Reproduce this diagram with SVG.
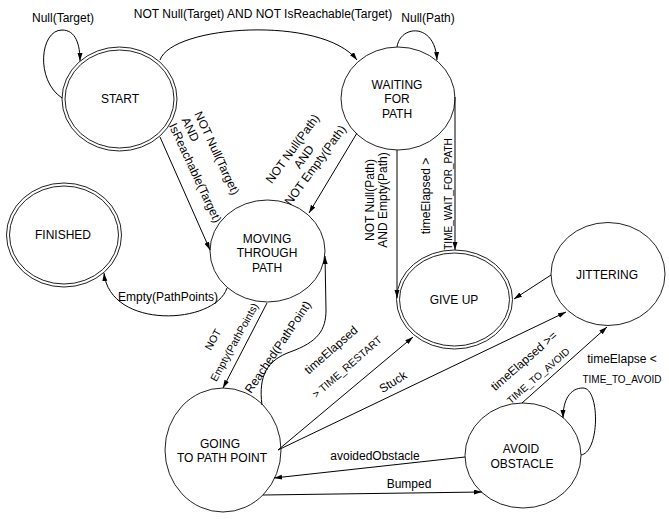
<svg xmlns="http://www.w3.org/2000/svg" width="669" height="519" viewBox="0 0 669 519">
<defs>
<marker id="arr" markerUnits="userSpaceOnUse" markerWidth="9" markerHeight="6" refX="8" refY="2.5" orient="auto">
<path d="M0,0 L8,2.5 L0,5 z" fill="#000"/>
</marker>
</defs>
<style>
text{font-family:"Liberation Sans",Arial,sans-serif;font-size:12px;fill:#000}
.m{text-anchor:middle}
.s{text-anchor:start}
.sm{font-size:10px}
.md{font-size:10.5px}
.n{fill:#fff;stroke:#222;stroke-width:1}
.ni{fill:none;stroke:#222;stroke-width:1}
.c{fill:none;stroke:#000;stroke-width:1;marker-end:url(#arr)}
</style>
<rect width="669" height="519" fill="#fff"/>

<g id="start"><ellipse class="n" cx="119.5" cy="99" rx="57.5" ry="52"/><ellipse class="ni" cx="119.5" cy="99" rx="54.5" ry="49"/><text class="m" x="120" y="103">START</text></g>
<g id="waiting"><ellipse class="n" cx="398" cy="98.5" rx="57" ry="51.5"/><text class="m" x="397" y="89">WAITING</text><text class="m" x="397" y="103">FOR</text><text class="m" x="397" y="118">PATH</text></g>
<g id="moving"><ellipse class="n" cx="267.5" cy="251" rx="57.5" ry="51"/><text class="m" x="267" y="243">MOVING</text><text class="m" x="267" y="257">THROUGH</text><text class="m" x="267" y="272">PATH</text></g>
<g id="finished"><ellipse class="n" cx="64" cy="235" rx="57.5" ry="52"/><ellipse class="ni" cx="64" cy="235" rx="54.5" ry="49"/><text class="m" x="63" y="239">FINISHED</text></g>
<g id="giveup"><ellipse class="n" cx="454.5" cy="299.5" rx="58" ry="49.5"/><ellipse class="ni" cx="454.5" cy="299.5" rx="55" ry="46.5"/><text class="m" x="454" y="304">GIVE UP</text></g>
<g id="jittering"><ellipse class="n" cx="608" cy="274" rx="57" ry="51.5"/><text class="m" x="607" y="279">JITTERING</text></g>
<g id="going"><ellipse class="n" cx="223" cy="450" rx="58" ry="62"/><text class="m" x="220" y="448">GOING</text><text class="m" x="222" y="462">TO PATH POINT</text></g>
<g id="avoid"><ellipse class="n" cx="523" cy="455.5" rx="58" ry="52.5"/><text class="m" x="521" y="453">AVOID</text><text class="m" x="522" y="468">OBSTACLE</text></g>

<g id="connectors">
<g id="e-start-self"><path class="c" d="M62,98 C35,80 40,30 62,30 C76,30 80,45 80,61"/><text class="m" x="63" y="22">Null(Target)</text></g>
<g id="e-start-waiting"><path class="c" d="M160,60 C172,25 322,15 357,60"/><text class="m" x="263" y="18">NOT Null(Target) AND NOT IsReachable(Target)</text></g>
<g id="e-waiting-self"><path class="c" d="M397,47 C400,25 435,22 437,60"/><text class="m" x="428" y="22">Null(Path)</text></g>
<g id="e-start-moving"><path class="c" d="M160,137 L210,250"/>
<g transform="translate(185,118) rotate(65)"><text class="s" x="0" y="-10">NOT Null(Target)</text><text class="s" x="0" y="4">AND</text><text class="s" x="0" y="18">IsReachable(Target)</text></g></g>
<g id="e-waiting-moving"><path class="c" d="M357,133 L309,213"/>
<g transform="translate(304,157) rotate(-54)"><text class="m" x="0" y="-10">NOT Null(Path)</text><text class="m" x="0" y="4">AND</text><text class="m" x="0" y="18">NOT Empty(Path)</text></g></g>
<g id="e-moving-finished"><path class="c" d="M227,288 C215,325 110,330 104,273"/><text class="m" x="168" y="301">Empty(PathPoints)</text></g>
<g id="e-moving-going"><path class="c" d="M267,303 L223,388"/>
<g transform="translate(234,342) rotate(-61)"><text class="m md" x="-8" y="-16">NOT</text><text class="m md" x="0" y="4">Empty(PathPoints)</text></g></g>
<g id="e-going-moving"><path class="c" d="M262,405 C258,375 268,360 290,352 C318,342 326,330 326,310 L325,256"/>
<g transform="translate(278,347) rotate(-56)"><text class="m" x="0" y="4">Reached(PathPoint)</text></g></g>
<g id="e-waiting-giveup-1"><path class="c" d="M397,150 L397,298"/>
<text class="m" transform="translate(374,200) rotate(-90)">NOT Null(Path)</text><text class="m" transform="translate(387,200) rotate(-90)">AND Empty(Path)</text></g>
<g id="e-waiting-giveup-2"><path class="c" d="M455,97 L455,250"/>
<text class="m" transform="translate(430,196) rotate(-90)">timeElapsed &gt;</text><text class="m sm" transform="translate(451.5,194) rotate(-90)">TIME_WAIT_FOR_PATH</text></g>
<g id="e-going-giveup"><path class="c" d="M278,450 L413,337"/>
<g transform="translate(331,350) rotate(-41)"><text class="m" x="0" y="4">timeElapsed</text><text class="m md" x="1" y="27">&gt; TIME_RESTART</text></g></g>
<g id="e-going-jittering"><path class="c" d="M278,450 L566,312"/>
<g transform="translate(393,382) rotate(-32)"><text class="m" x="0" y="4">Stuck</text></g></g>
<g id="e-jittering-giveup"><path class="c" d="M551,275 L514,299"/></g>
<g id="e-avoid-jittering"><path class="c" d="M522,403 L607,327"/>
<g transform="translate(524,361) rotate(-41)"><text class="m" x="0" y="4">timeElapsed &gt;=</text><text class="m sm" x="1" y="24">TIME_TO_AVOID</text></g></g>
<g id="e-avoid-self"><path class="c" d="M581,455 C600,452 600,388 583,388 C570,388 563,400 563,418"/>
<text class="m" x="622" y="363">timeElapse &lt;</text><text class="m sm" x="622" y="383">TIME_TO_AVOID</text></g>
<g id="e-avoid-going"><path class="c" d="M465,457 L274,478"/><text class="m" x="375" y="460">avoidedObstacle</text></g>
<g id="e-going-avoid"><path class="c" d="M263,495 L482,492"/><text class="m" x="409" y="488">Bumped</text></g>
</g>
</svg>
